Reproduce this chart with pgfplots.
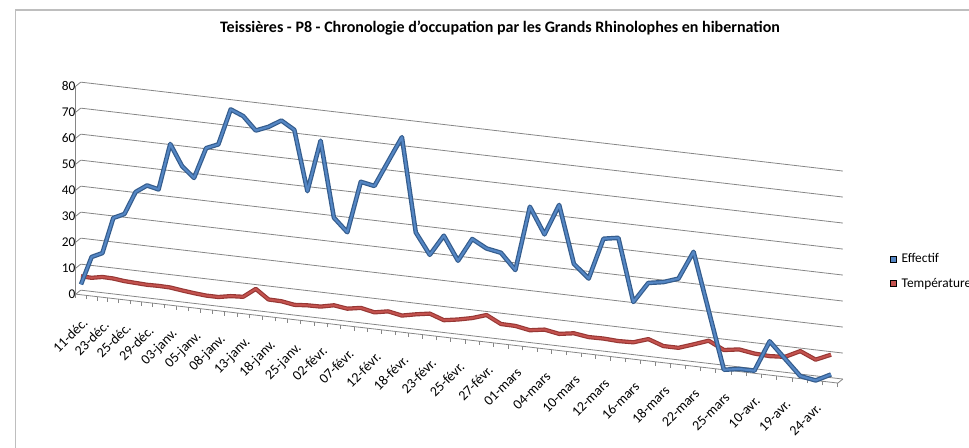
\documentclass[border=0pt]{standalone}
\usepackage{fontspec}
\setmainfont{Carlito}
\usepackage{pgfplots}
\usepackage{pgfplotstable}
\pgfplotsset{compat=1.18}
\definecolor{effdark}{RGB}{52,92,140}
\definecolor{efflight}{RGB}{84,134,196}
\definecolor{tempdark}{RGB}{150,55,52}
\definecolor{templight}{RGB}{196,82,78}
\definecolor{gridc}{RGB}{134,134,134}
\definecolor{framec}{RGB}{190,190,190}

\pgfplotstableread{
i E T
0 4 7.1
1 15 7.0
2 17 7.8
3 31 7.7
4 33 7.2
5 42 7.0
6 45 6.8
7 44 6.9
8 62 6.8
9 54 6.2
10 50 5.7
11 62 5.3
12 64 5.3
13 78 6.2
14 76 6.5
15 71 10.1
16 73 6.6
17 76 6.5
18 73 5.7
19 50 6.1
20 70 6.2
21 41 7.3
22 36 6.6
23 56 7.5
24 55 6.4
25 65 7.4
26 75 6.4
27 39 7.5
28 31 8.4
29 39 6.5
30 30 7.4
31 39 8.6
32 36 10.4
33 35 7.6
34 29 7.5
35 54 6.5
36 44 7.4
37 56 6.4
38 34 7.3
39 29 6.5
40 45 6.6
41 46 6.3
42 22 6.5
43 30 8.4
44 31 6.4
45 33 6.4
46 44 8.4
47 22 10.5
48 0 7.6
49 1 8.5
50 1 7.6
51 13 7.3
52 7 7.7
53 1 10.6
54 0 8.0
55 3 10.6
}\datatab

\begin{document}
\begin{tikzpicture}
\useasboundingbox (0,0) rectangle (726.75pt,336pt);
\draw[framec, line width=1pt] (11.8pt,0pt) -- (11.8pt,328.5pt) -- (726.75pt,328.5pt);
\node[font=\bfseries\fontsize{12}{14}\selectfont] at (375pt,315pt) {Teissières - P8 - Chronologie d'occupation par les Grands Rhinolophes en hibernation};
\begin{axis}[
  at={(60.75pt,114.92pt)}, anchor=origin,
  x={(10.227pt,-1.193pt)}, y={(0pt,1.95pt)},
  x coord trafo/.code={\pgfmathparse{(10.535*(#1)+0.0813*(#1)*(#1)-0.000453*(#1)*(#1)*(#1))/13.636}},
  xmin=-0.5, xmax=55.5, ymin=0, ymax=80,
  clip=false,
  axis lines*=left,
  axis line style={gridc, line width=0.6pt, -},
  ytick={0,10,...,80},
  xtick={0,2,...,54},
  xticklabels={11-déc.,23-déc.,25-déc.,29-déc.,03-janv.,05-janv.,08-janv.,13-janv.,18-janv.,25-janv.,02-févr.,07-févr.,12-févr.,18-févr.,23-févr.,25-févr.,27-févr.,01-mars,04-mars,10-mars,12-mars,16-mars,18-mars,22-mars,25-mars,10-avr.,19-avr.,24-avr.},
  minor xtick={-0.5,0.5,...,55.5},
  tick align=outside,
  major tick length=0pt,
  minor tick length=3pt,
  every minor tick/.append style={gridc, line width=0.6pt},
  ymajorgrids,
  major grid style={gridc, line width=0.6pt, xshift=3.75pt, yshift=3pt},
  /pgf/number format/assume math mode=true,
  tick label style={font=\fontsize{10}{11}\selectfont},
  xticklabel style={font=\fontsize{10.5}{11}\selectfont, yshift=-15pt, xshift=0.5pt, anchor=north east, rotate=45, inner sep=1pt},
  yticklabel style={anchor=east, inner sep=1pt, xshift=1pt},
  legend style={at={(axis cs:58.87,45.3)}, anchor=west, draw=none, fill=none,
    font=\fontsize{10}{11}\selectfont, row sep=6pt, inner sep=0pt, cells={anchor=west},
    /tikz/every odd column/.append style={column sep=2pt}},
  legend image code/.code={\fill[#1] (0pt,-2.25pt) rectangle (4.5pt,2.25pt);},
]
\pgfplotsinvokeforeach{0,10,...,80}{\draw[gridc, line width=0.6pt] (axis cs:-0.5,#1) -- ++(3.75pt,3pt);}
\draw[gridc, line width=0.6pt] (axis cs:55.5,0) -- ++(3.75pt,3pt);
\addplot[tempdark, line width=3.2pt, line join=round, forget plot] table[x=i,y=T]{\datatab};
\addplot[templight, line width=1.5pt, line join=round, forget plot] table[x=i,y=T]{\datatab};
\addplot[effdark, line width=3.4pt, line join=round, forget plot] table[x=i,y=E]{\datatab};
\addplot[efflight, line width=1.6pt, line join=round, forget plot] table[x=i,y=E]{\datatab};
\addlegendimage{fill=efflight}
\addlegendentry{Effectif}
\addlegendimage{fill=templight}
\addlegendentry{Température}
\end{axis}
\end{tikzpicture}
\end{document}
